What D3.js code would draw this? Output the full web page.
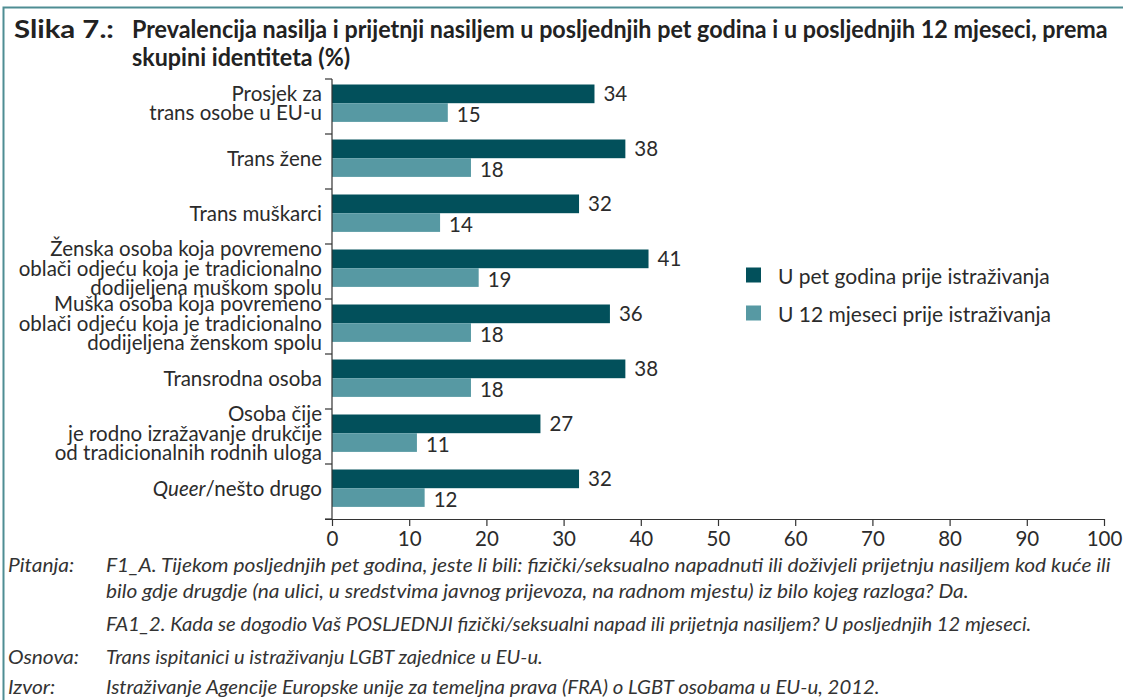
<!DOCTYPE html>
<html>
<head>
<meta charset="utf-8">
<script src="https://cdn.jsdelivr.net/npm/d3@7"></script>
<style>
  html, body { margin: 0; padding: 0; background: #fff; }
  svg { display: block; }
</style>
</head>
<body>
<svg id="chart" width="1123" height="700"></svg>
<script>
// ---------- DATA ----------
const categories = [
  "Prosjek za|trans osobe u EU-u",
  "Trans žene",
  "Trans muškarci",
  "Ženska osoba koja povremeno|oblači odjeću koja je tradicionalno|dodijeljena muškom spolu",
  "Muška osoba koja povremeno|oblači odjeću koja je tradicionalno|dodijeljena ženskom spolu",
  "Transrodna osoba",
  "Osoba čije|je rodno izražavanje drukčije|od tradicionalnih rodnih uloga",
  "*Queer*/nešto drugo"
];
const fiveYears = [34, 38, 32, 41, 36, 38, 27, 32];
const twelveMonths = [15, 18, 14, 19, 18, 18, 11, 12];
const seriesNames = ["U pet godina prije istraživanja", "U 12 mjeseci prije istraživanja"];
const xTicks = [0, 10, 20, 30, 40, 50, 60, 70, 80, 90, 100];
const titleLines = [
  "Prevalencija nasilja i prijetnji nasiljem u posljednjih pet godina i u posljednjih 12 mjeseci, prema",
  "skupini identiteta (%)"
];
const titlePrefix = "Slika 7.:";
const notePrefixes = ["Pitanja:", "", "", "Osnova:", "Izvor:"];
const noteLines = [
  "F1_A. Tijekom posljednjih pet godina, jeste li bili: fizički/seksualno napadnuti ili doživjeli prijetnju nasiljem kod kuće ili",
  "bilo gdje drugdje (na ulici, u sredstvima javnog prijevoza, na radnom mjestu) iz bilo kojeg razloga? Da.",
  "FA1_2. Kada se dogodio Vaš POSLJEDNJI fizički/seksualni napad ili prijetnja nasiljem? U posljednjih 12 mjeseci.",
  "Trans ispitanici u istraživanju LGBT zajednice u EU-u.",
  "Istraživanje Agencije Europske unije za temeljna prava (FRA) o LGBT osobama u EU-u, 2012."
];

// ---------- STYLE ----------
const DARK = "#02505b";
const LIGHT = "#5799a3";
const FRAME = "#4f8d93";
const TEXT = "#2b2b2b";
const FONT = "Lato, 'Open Sans', sans-serif";

const svg = d3.select("#chart");

// frame (top + left line)
svg.append("path")
  .attr("d", "M3.5,700 L3.5,7.5 L1123,7.5")
  .attr("fill", "none").attr("stroke", FRAME).attr("stroke-width", 2);

// helper: horizontally scaled text to a target width (condensed face look)
function fitText(parent, text, tx, ty, width, sxFixed) {
  const n = parent.append("text").text(text);
  const w = n.node().getComputedTextLength();
  const sx = sxFixed != null ? sxFixed : width / w;
  n.attr("transform", `translate(${tx},${ty}) scale(${sx},1)`);
  return sx;
}

// title
const title = svg.append("g").attr("font-family", FONT).attr("font-weight", 700)
  .attr("font-size", 24.5).attr("fill", "#222");
const tsx = fitText(title, titleLines[0], 132, 38, 976);
fitText(title, titleLines[1], 132, 66, null, tsx);
fitText(title, titlePrefix, 14, 38, 100);

// scales
const x = d3.scaleLinear().domain([0, 100]).range([332, 1104]);
const y = d3.scaleBand().domain(categories).range([79, 519]).padding(0);
const bw = y.bandwidth();
const barH = bw * 0.34;
const barTop = c => y(c) + bw * 0.1;

// bars
const g = svg.append("g");
g.selectAll("rect.dark").data(categories).join("rect")
  .attr("x", x(0)).attr("y", c => barTop(c))
  .attr("width", (c, i) => x(fiveYears[i]) - x(0)).attr("height", barH)
  .attr("fill", DARK);
g.selectAll("rect.light").data(categories).join("rect")
  .attr("x", x(0)).attr("y", c => barTop(c) + barH)
  .attr("width", (c, i) => x(twelveMonths[i]) - x(0)).attr("height", barH)
  .attr("fill", LIGHT);

// value labels
const vl = svg.append("g").attr("font-family", FONT).attr("font-size", 20.5).attr("fill", TEXT);
vl.selectAll("text.d").data(categories).join("text")
  .attr("x", (c, i) => x(fiveYears[i]) + 9).attr("y", c => barTop(c) + barH / 2 - 1)
  .attr("dominant-baseline", "central").text((c, i) => fiveYears[i]);
vl.selectAll("text.l").data(categories).join("text")
  .attr("x", (c, i) => x(twelveMonths[i]) + 9).attr("y", c => barTop(c) + barH * 1.5 + 1)
  .attr("dominant-baseline", "central").text((c, i) => twelveMonths[i]);

// y axis
const ya = svg.append("g").attr("stroke", "#333").attr("stroke-width", 1.2);
ya.append("line").attr("x1", x(0)).attr("x2", x(0)).attr("y1", y.range()[0]).attr("y2", y.range()[1]);
const bounds = categories.map(c => y(c)).concat([y.range()[1]]);
ya.selectAll("line.t").data(bounds).join("line")
  .attr("x1", x(0) - 7).attr("x2", x(0)).attr("y1", d => d).attr("y2", d => d);

// category labels
const cl = svg.append("g").attr("font-family", FONT).attr("font-size", 20.5).attr("fill", TEXT)
  .attr("text-anchor", "end");
categories.forEach(c => {
  const lines = c.split("|");
  const cy = y(c) + bw / 2 - 4;
  const lh = 19.5;
  lines.forEach((ln, k) => {
    const t = cl.append("text").attr("x", x(0) - 10)
      .attr("y", cy + (k - (lines.length - 1) / 2) * lh)
      .attr("dominant-baseline", "central");
    const parts = ln.split("*");
    parts.forEach((p, j) => {
      if (!p) return;
      t.append("tspan").attr("font-style", j % 2 === 1 ? "italic" : "normal").text(p);
    });
  });
});

// x axis
const xa = svg.append("g").attr("transform", `translate(0,${y.range()[1]})`)
  .call(d3.axisBottom(x).tickValues(xTicks).tickSize(7).tickPadding(5).tickSizeOuter(0));
xa.select(".domain").attr("stroke", "#333").attr("stroke-width", 1.2)
  .attr("d", `M${x(0) - 7},0.5H${x(100)}`);
xa.selectAll(".tick line").attr("stroke", "#333").attr("stroke-width", 1.2);
xa.selectAll(".tick text").attr("font-family", FONT).attr("font-size", 20.5).attr("fill", TEXT);

// legend
const lg = svg.append("g").attr("font-family", FONT).attr("font-size", 21).attr("fill", TEXT);
seriesNames.forEach((s, i) => {
  const ly = 275 + i * 38;
  lg.append("rect").attr("x", 746).attr("y", ly - 7.5).attr("width", 15).attr("height", 15)
    .attr("fill", i === 0 ? DARK : LIGHT);
  lg.append("text").attr("x", 778).attr("y", ly).attr("dominant-baseline", "central").text(s);
});

// notes
const nt = svg.append("g").attr("font-family", FONT).attr("font-style", "italic")
  .attr("font-size", 19.5).attr("fill", "#333");
const noteY = [572, 598, 631, 664, 694];
const noteW = [1005, 863, 926, 437, 774];
let nsx = null;
noteLines.forEach((t, i) => {
  const s = fitText(nt, t, 106, noteY[i], noteW[i]);
  if (i === 0) nsx = s;
});
notePrefixes.forEach((p, i) => { if (p) fitText(nt, p, 8, noteY[i], null, nsx); });
</script>
</body>
</html>
